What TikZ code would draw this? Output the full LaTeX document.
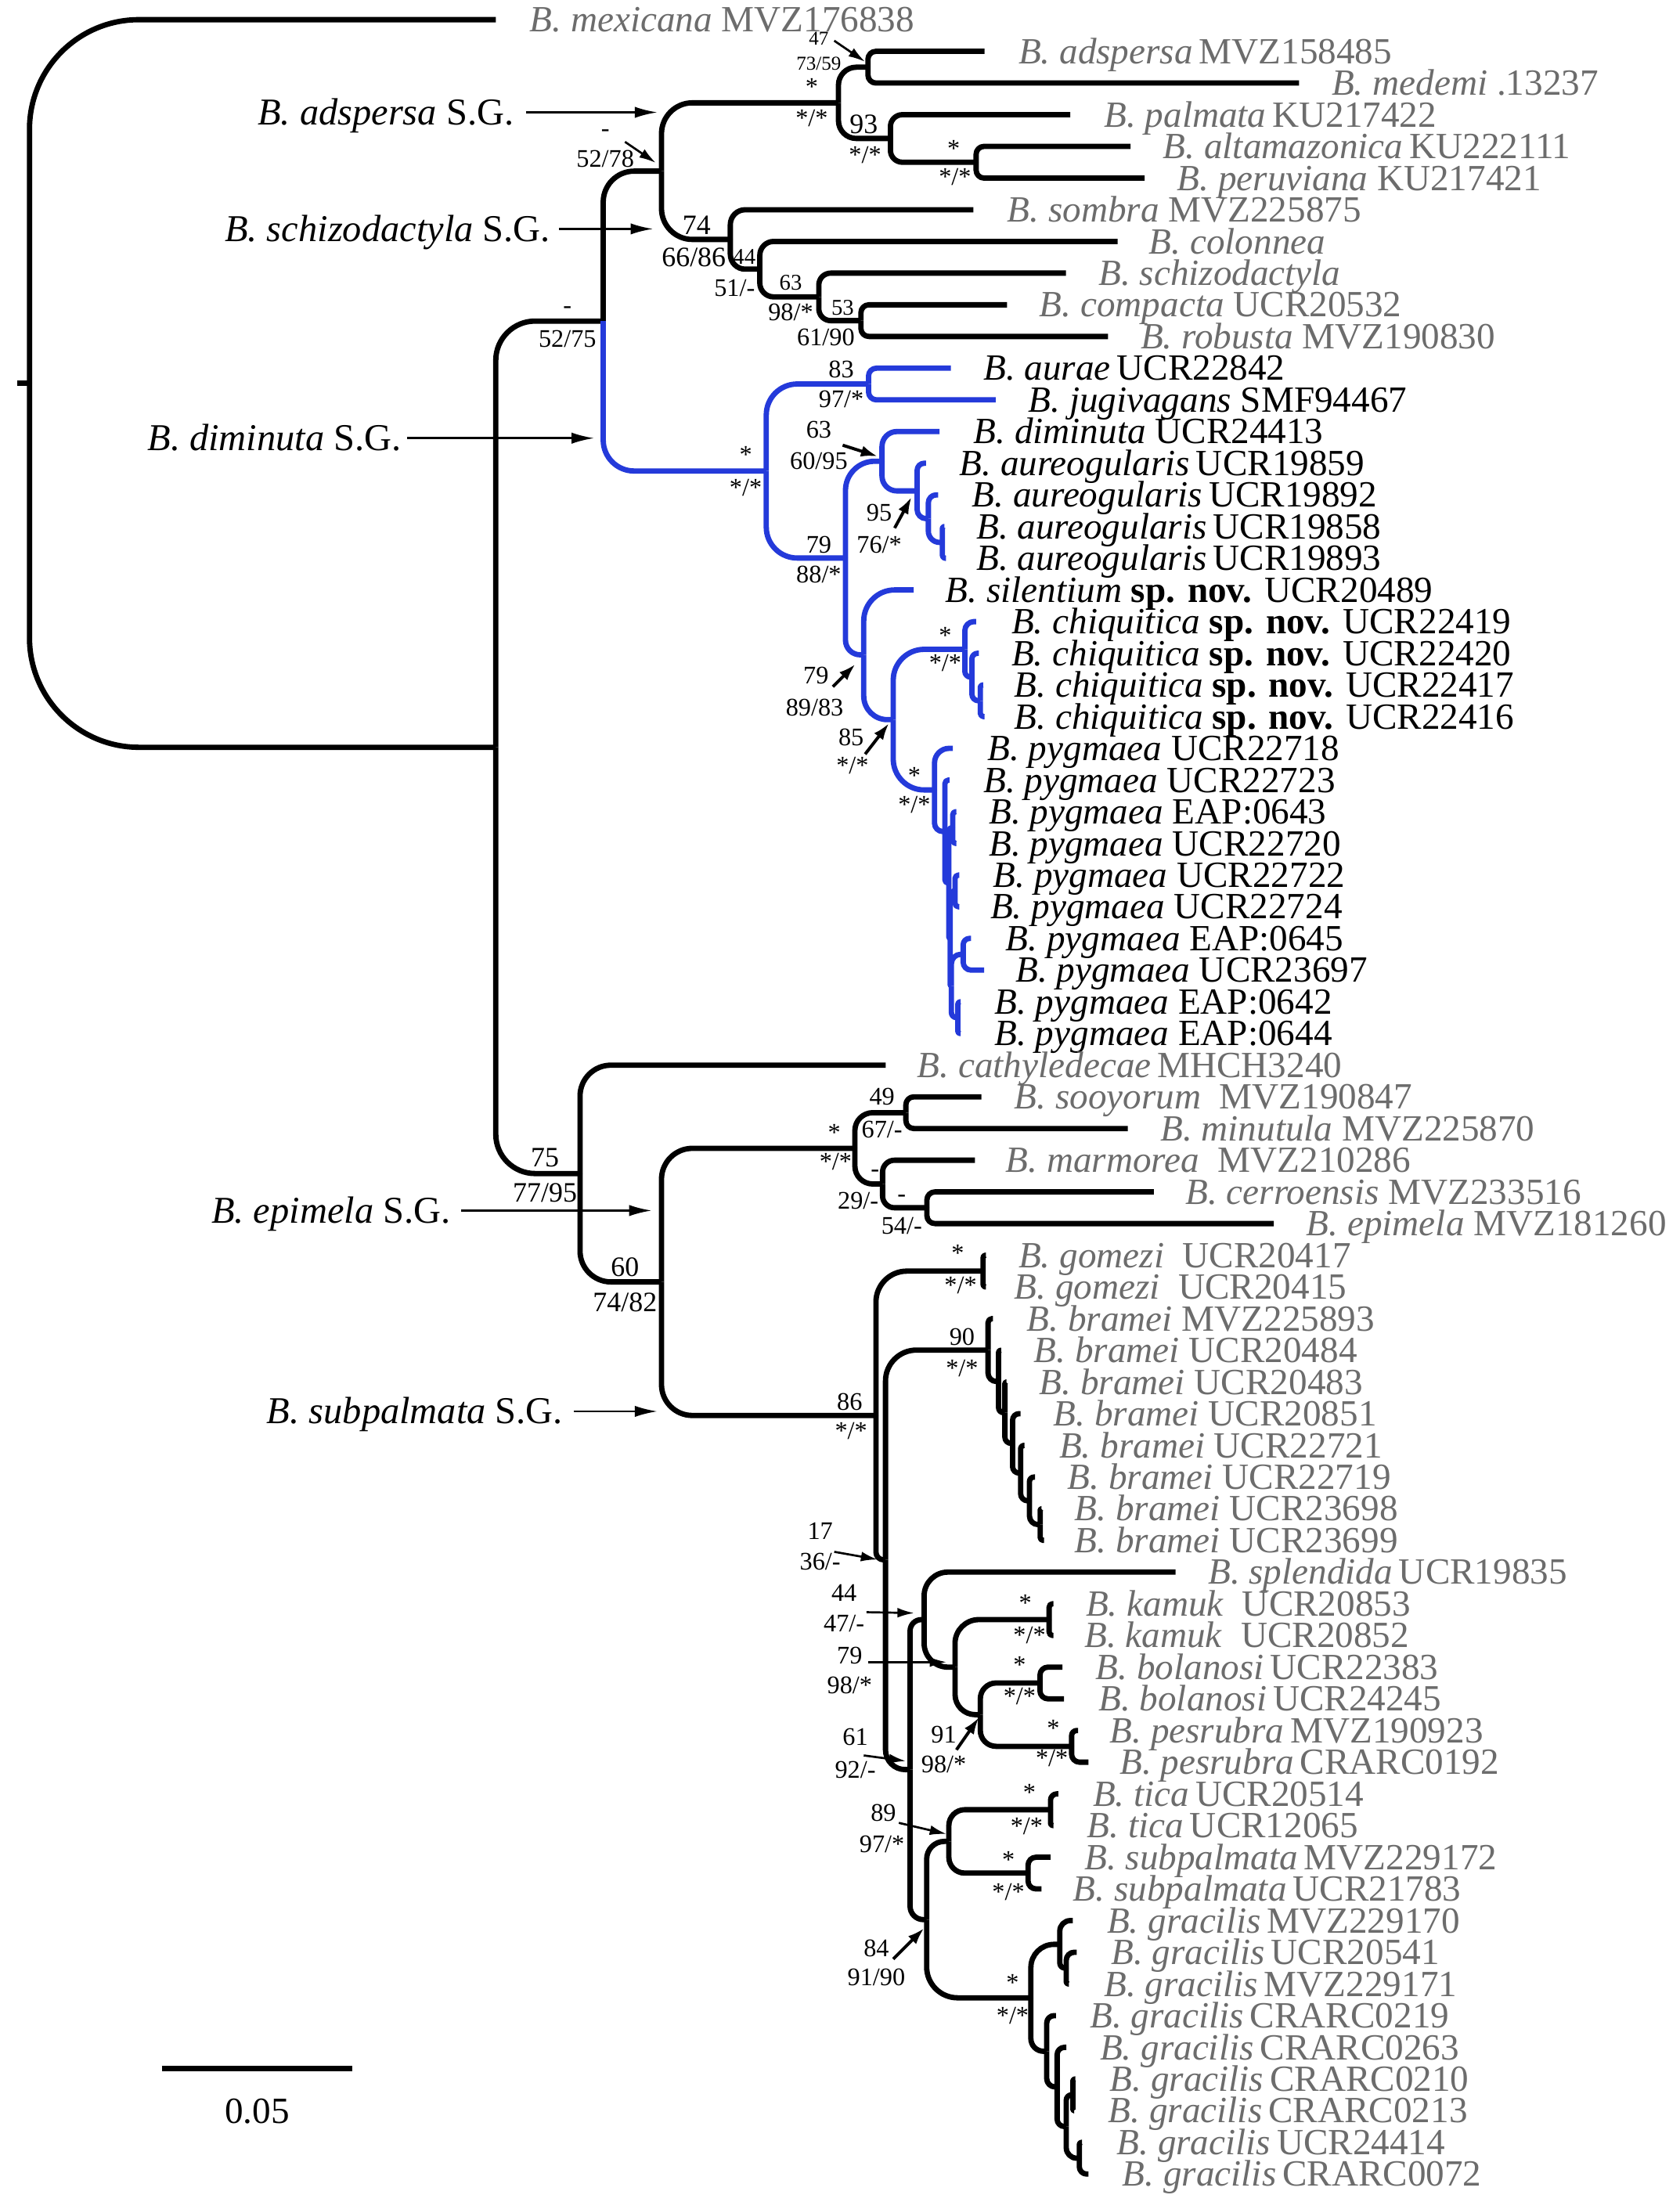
\documentclass[tikz,border=0pt]{standalone}
\usepackage{fontspec}
\setmainfont{Liberation Serif}
\usetikzlibrary{arrows.meta}
\definecolor{myblue}{RGB}{36,58,218}
\definecolor{tgray}{RGB}{108,108,108}
\newcommand\mytaxf{\fontsize{26.3}{28}\selectfont}
\newcommand\mylabf{\fontsize{18}{20}\selectfont}
\newcommand\mybigf{\fontsize{20}{22}\selectfont}
\newcommand\mymidf{\fontsize{16}{18}\selectfont}
\newcommand\mysmlf{\fontsize{14}{16}\selectfont}
\newcommand\mygrpf{\fontsize{27}{30}\selectfont}
\def\brmax{22}
\newcommand\br[3][]{%
  \path (#2); \pgfgetlastxy{\brpx}{\brpy}%
  \path (#3); \pgfgetlastxy{\brcx}{\brcy}%
  \pgfmathsetmacro\brr{max(0.2,min(\brmax,0.5*abs((\brpy)-(\brcy)),0.8*abs((\brcx)-(\brpx))))}%
  \draw[branch,rounded corners=\brr pt,#1] (#2) |- (#3);%
}
\newcommand\tx[6][tgray]{%
  \coordinate (t#2) at (#3,#4);
  \node[tax,text=#1] (l#2) at (#5,#4) {#6};}
\begin{document}
\begin{tikzpicture}[x=1pt,y=-1pt,
  branch/.style={line width=3.8pt,line cap=butt,line join=round},
  blu/.style={draw=myblue},
  tax/.style={anchor=base west,inner sep=0pt,font=\mytaxf,yshift=-8.7pt,text height=0.66em,text depth=0.16em},
  grp/.style={anchor=base east,inner sep=0pt,font=\mygrpf,yshift=-8.9pt},
  lab/.style={anchor=base,inner sep=0pt,font=\mylabf,yshift=-6pt},
  labb/.style={anchor=base,inner sep=0pt,font=\mybigf,yshift=-6.8pt},
  labm/.style={anchor=base,inner sep=0pt,font=\mymidf,yshift=-5.4pt},
  labs/.style={anchor=base,inner sep=0pt,font=\mysmlf,yshift=-4.8pt},
  st/.style={anchor=base,inner sep=0pt,font=\mylabf,yshift=-8.5pt},
  hy/.style={anchor=base,inner sep=0pt,font=\mylabf,yshift=-4pt},
  garrow/.style={line width=1.4pt,-{Latex[length=16pt,width=8pt]}},
  narrow/.style={line width=2.2pt,-{Latex[length=12pt,width=8pt]}},
  tarrow/.style={line width=1.5pt,-{Latex[length=12pt,width=7pt]}}]
\useasboundingbox (0,0) rectangle (1196,1568);
\fill[white] (0,0) rectangle (1196,1568);

% ---------------- internal nodes ----------------
\coordinate (R0) at (21,273.07);
\coordinate (A) at (353,532.14);
\coordinate (B) at (429.5,228.63);
\coordinate (C) at (413,835.65);
\coordinate (E) at (471,121.87);
\coordinate (F) at (545.6,335.39);
\coordinate (G) at (597,73.22);
\coordinate (H) at (520,170.51);
\coordinate (I) at (618,47.84);
\coordinate (J) at (634,98.6);
\coordinate (K) at (695,115.52);
\coordinate (L) at (541,191.66);
\coordinate (M) at (583,211.4);
\coordinate (N) at (613,228.32);
\coordinate (O) at (618.4,273.44);
\coordinate (P) at (602,397.35);
\coordinate (Q) at (628,328.43);
\coordinate (S) at (653,349.58);
\coordinate (T) at (661,369.32);
\coordinate (U) at (671,386.24);
\coordinate (R) at (615,466.26);
\coordinate (V) at (636,512.44);
\coordinate (W) at (687,462.38);
\coordinate (W2) at (692,482.12);
\coordinate (W3) at (698,499.04);
\coordinate (X) at (665.4,562.49);
\coordinate (X2) at (672.8,592.1);
\coordinate (X3) at (675.6,628.76);
\coordinate (X4) at (676.5,668.24);
\coordinate (X5) at (677.4,702.08);
\coordinate (c1) at (678.4,589.28);
\coordinate (c2) at (680,634.4);
\coordinate (c3) at (685.8,679.52);
\coordinate (c4) at (682,724.64);
\coordinate (D) at (471,912.81);
\coordinate (SS) at (608.7,817.7);
\coordinate (TT) at (645,792.32);
\coordinate (UU) at (628.4,843.08);
\coordinate (VV) at (660,860.0);
\coordinate (Z) at (623.7,1007.92);
\coordinate (Y) at (700,905.12);
\coordinate (AA) at (630.5,1110.72);
\coordinate (BB) at (703.5,961.35);
\coordinate (BB2) at (711,983.73);
\coordinate (BB3) at (715.5,1005.94);
\coordinate (BB4) at (721,1027.79);
\coordinate (BB5) at (726.7,1048.94);
\coordinate (BB6) at (733,1068.68);
\coordinate (BB7) at (740.6,1085.6);
\coordinate (CC) at (648,1260.09);
\coordinate (DD) at (658,1153.28);
\coordinate (FF) at (680,1187.12);
\coordinate (GG) at (747,1153.28);
\coordinate (HH) at (698,1220.96);
\coordinate (II) at (740.5,1198.4);
\coordinate (JJ) at (763,1243.52);
\coordinate (EE) at (659.8,1366.9);
\coordinate (KK) at (675.6,1311.2);
\coordinate (MM) at (748,1288.64);
\coordinate (NN) at (732,1333.76);
\coordinate (LL) at (734,1422.59);
\coordinate (OO) at (754.6,1384.52);
\coordinate (OO2) at (759.2,1401.44);
\coordinate (PP) at (745.3,1460.66);
\coordinate (PP2) at (752.7,1486.04);
\coordinate (PP3) at (759.2,1514.24);
\coordinate (QQ) at (763.9,1491.68);
\coordinate (RR) at (768.5,1536.8);
\coordinate (stub) at (12,273.07);

% ---------------- tips and taxon labels ----------------
\tx{1}{353}{14}{377}{\textit{B. mexicana} MVZ176838}
\tx{2}{701}{36.56}{725}{\textit{B. adspersa}\,MVZ158485}
\tx{3}{925}{59.12}{948}{\textit{B. medemi} .13237}
\tx{4}{762}{81.68}{786}{\textit{B. palmata}\,KU217422}
\tx{5}{805}{104.24}{828}{\textit{B. altamazonica}\,KU222111}
\tx{6}{815}{126.8}{838}{\textit{B. peruviana} KU217421}
\tx{7}{693}{149.36}{717}{\textit{B. sombra} MVZ225875}
\tx{8}{795.7}{171.92}{818}{\textit{B. colonnea}}
\tx{9}{759}{194.48}{782}{\textit{B. schizodactyla}}
\tx{10}{717}{217.04}{740}{\textit{B. compacta} UCR20532}
\tx{11}{789}{239.6}{812}{\textit{B. robusta} MVZ190830}
\tx[black]{12}{677}{262.16}{700}{\textit{B. aurae}\,UCR22842}
\tx[black]{13}{709}{284.72}{732}{\textit{B. jugivagans} SMF94467}
\tx[black]{14}{669}{307.28}{693}{\textit{B. diminuta} UCR24413}
\tx[black]{15}{659.4}{329.84}{683}{\textit{B. aureogularis}\,UCR19859}
\tx[black]{16}{668}{352.4}{692}{\textit{B. aureogularis}\,UCR19892}
\tx[black]{17}{672.5}{374.96}{695}{\textit{B. aureogularis}\,UCR19858}
\tx[black]{18}{673.5}{397.52}{695}{\textit{B. aureogularis}\,UCR19893}
\tx[black]{19}{650.6}{420.08}{673}{\textit{B. silentium} \textbf{sp. nov.} UCR20489}
\tx[black]{20}{695}{442.64}{720}{\textit{B. chiquitica} \textbf{sp. nov.} UCR22419}
\tx[black]{21}{697}{465.2}{720}{\textit{B. chiquitica} \textbf{sp. nov.} UCR22420}
\tx[black]{22}{700}{487.76}{722}{\textit{B. chiquitica} \textbf{sp. nov.} UCR22417}
\tx[black]{23}{701}{510.32}{722}{\textit{B. chiquitica} \textbf{sp. nov.} UCR22416}
\tx[black]{24}{678.4}{532.88}{703}{\textit{B. pygmaea} UCR22718}
\tx[black]{25}{676}{555.44}{700}{\textit{B. pygmaea} UCR22723}
\tx[black]{26}{681}{578}{704}{\textit{B. pygmaea} EAP:0643}
\tx[black]{27}{681}{600.56}{704}{\textit{B. pygmaea} UCR22720}
\tx[black]{28}{683}{623.12}{707}{\textit{B. pygmaea} UCR22722}
\tx[black]{29}{683}{645.68}{705}{\textit{B. pygmaea} UCR22724}
\tx[black]{30}{691.4}{668.24}{716}{\textit{B. pygmaea} EAP:0645}
\tx[black]{31}{700.7}{690.8}{723}{\textit{B. pygmaea} UCR23697}
\tx[black]{32}{684}{713.36}{708}{\textit{B. pygmaea} EAP:0642}
\tx[black]{33}{684}{735.92}{708}{\textit{B. pygmaea} EAP:0644}
\tx{34}{630.6}{758.48}{653}{\textit{B. cathyledecae}\,MHCH3240}
\tx{35}{698.8}{781.04}{722}{\textit{B. sooyorum}\enspace MVZ190847}
\tx{36}{803}{803.6}{826}{\textit{B. minutula} MVZ225870}
\tx{37}{694.2}{826.16}{716}{\textit{B. marmorea}\enspace MVZ210286}
\tx{38}{821.5}{848.72}{844}{\textit{B. cerroensis} MVZ233516}
\tx{39}{907}{871.28}{930}{\textit{B. epimela} MVZ181260}
\tx{40}{702}{893.84}{725}{\textit{B. gomezi}\enspace UCR20417}
\tx{41}{702}{916.4}{722}{\textit{B. gomezi}\enspace UCR20415}
\tx{42}{707}{938.96}{731}{\textit{B. bramei} MVZ225893}
\tx{43}{712.8}{961.52}{736}{\textit{B. bramei} UCR20484}
\tx{44}{716.6}{984.08}{740}{\textit{B. bramei} UCR20483}
\tx{45}{726.7}{1006.64}{750}{\textit{B. bramei} UCR20851}
\tx{46}{729.5}{1029.2}{754}{\textit{B. bramei} UCR22721}
\tx{47}{737}{1051.76}{760}{\textit{B. bramei} UCR22719}
\tx{48}{741.6}{1074.32}{765}{\textit{B. bramei} UCR23698}
\tx{49}{743.4}{1096.88}{765}{\textit{B. bramei} UCR23699}
\tx{50}{837}{1119.44}{860}{\textit{B. splendida}\,UCR19835}
\tx{51}{750}{1142}{773}{\textit{B. kamuk}\enspace UCR20853}
\tx{52}{750}{1164.56}{772}{\textit{B. kamuk}\enspace UCR20852}
\tx{53}{756.4}{1187.12}{780}{\textit{B. bolanosi}\,UCR22383}
\tx{54}{757.6}{1209.68}{782}{\textit{B. bolanosi}\,UCR24245}
\tx{55}{767.6}{1232.24}{790}{\textit{B. pesrubra}\,MVZ190923}
\tx{56}{775}{1254.8}{797}{\textit{B. pesrubra}\,CRARC0192}
\tx{57}{753.6}{1277.36}{778}{\textit{B. tica}\,UCR20514}
\tx{58}{750}{1299.92}{774}{\textit{B. tica}\,UCR12065}
\tx{59}{748}{1322.48}{772}{\textit{B. subpalmata}\,MVZ229172}
\tx{60}{741.6}{1345.04}{764}{\textit{B. subpalmata}\,UCR21783}
\tx{61}{763.9}{1367.6}{788}{\textit{B. gracilis}\,MVZ229170}
\tx{62}{766.7}{1390.16}{791}{\textit{B. gracilis}\,UCR20541}
\tx{63}{761}{1412.72}{786}{\textit{B. gracilis}\,MVZ229171}
\tx{64}{751.8}{1435.28}{776}{\textit{B. gracilis}\,CRARC0219}
\tx{65}{759.2}{1457.84}{783}{\textit{B. gracilis}\,CRARC0263}
\tx{66}{765.7}{1480.4}{790}{\textit{B. gracilis}\,CRARC0210}
\tx{67}{764.8}{1502.96}{789}{\textit{B. gracilis}\,CRARC0213}
\tx{68}{770.4}{1525.52}{795}{\textit{B. gracilis}\,UCR24414}
\tx{69}{775}{1548.08}{799}{\textit{B. gracilis}\,CRARC0072}

% ---------------- branches ----------------
\draw[branch] (stub) -- (R0);
\br[rounded corners=78pt]{R0}{t1}
\br[rounded corners=78pt]{R0}{A}
\br[rounded corners=28pt]{A}{B}
\br[rounded corners=28pt]{A}{C}
\br{B}{E}
\br[blu]{B}{F}
\br{E}{G} \br{E}{H}
\br{G}{I} \br{G}{J}
\br{I}{t2} \br{I}{t3}
\br{J}{t4} \br{J}{K}
\br{K}{t5} \br{K}{t6}
\br{H}{t7} \br{H}{L}
\br{L}{t8} \br{L}{M}
\br{M}{t9} \br{M}{N}
\br{N}{t10} \br{N}{t11}
% diminuta S.G. (blue)
\br[blu]{F}{O} \br[blu]{F}{P}
\br[blu]{O}{t12} \br[blu]{O}{t13}
\br[blu]{P}{Q} \br[blu]{P}{R}
\br[blu]{Q}{t14} \br[blu]{Q}{S}
\br[blu]{S}{t15} \br[blu]{S}{T}
\br[blu]{T}{t16} \br[blu]{T}{U}
\br[blu]{U}{t17} \br[blu]{U}{t18}
\br[blu]{R}{t19} \br[blu]{R}{V}
\br[blu]{V}{W} \br[blu]{V}{X}
\br[blu]{W}{t20} \br[blu]{W}{W2}
\br[blu]{W2}{t21} \br[blu]{W2}{W3}
\br[blu]{W3}{t22} \br[blu]{W3}{t23}
\br[blu]{X}{t24} \br[blu]{X}{X2}
\br[blu]{X2}{t25} \br[blu]{X2}{X3}
\br[blu]{X3}{c1} \br[blu]{X3}{X4}
\br[blu]{c1}{t26} \br[blu]{c1}{t27}
\br[blu]{X4}{c2} \br[blu]{X4}{X5}
\br[blu]{c2}{t28} \br[blu]{c2}{t29}
\br[blu]{X5}{c3} \br[blu]{X5}{c4}
\br[blu]{c3}{t30} \br[blu]{c3}{t31}
\br[blu]{c4}{t32} \br[blu]{c4}{t33}
% epimela / subpalmata
\br{C}{t34} \br{C}{D}
\br{D}{SS} \br{D}{Z}
\br{SS}{TT} \br{SS}{UU}
\br{TT}{t35} \br{TT}{t36}
\br{UU}{t37} \br{UU}{VV}
\br{VV}{t38} \br{VV}{t39}
\br{Z}{Y} \br{Z}{AA}
\br{Y}{t40} \br{Y}{t41}
\br{AA}{BB} \br{AA}{CC}
\br{BB}{t42} \br{BB}{BB2}
\br{BB2}{t43} \br{BB2}{BB3}
\br{BB3}{t44} \br{BB3}{BB4}
\br{BB4}{t45} \br{BB4}{BB5}
\br{BB5}{t46} \br{BB5}{BB6}
\br{BB6}{t47} \br{BB6}{BB7}
\br{BB7}{t48} \br{BB7}{t49}
\br{CC}{DD} \br{CC}{EE}
\br{DD}{t50} \br{DD}{FF}
\br{FF}{GG} \br{FF}{HH}
\br{GG}{t51} \br{GG}{t52}
\br{HH}{II} \br{HH}{JJ}
\br{II}{t53} \br{II}{t54}
\br{JJ}{t55} \br{JJ}{t56}
\br{EE}{KK} \br{EE}{LL}
\br{KK}{MM} \br{KK}{NN}
\br{MM}{t57} \br{MM}{t58}
\br{NN}{t59} \br{NN}{t60}
\br{LL}{OO} \br{LL}{PP}
\br{OO}{t61} \br{OO}{OO2}
\br{OO2}{t62} \br{OO2}{t63}
\br{PP}{t64} \br{PP}{PP2}
\br{PP2}{t65} \br{PP2}{PP3}
\br{PP3}{QQ} \br{PP3}{RR}
\br{QQ}{t66} \br{QQ}{t67}
\br{RR}{t68} \br{RR}{t69}

% ---------------- support values ----------------
\node[labs] (n1) at (583,27) {47};
\node[labs] (n2) at (583,45) {73/59};
\node[st] (n3) at (578,59) {*};
\node[lab] (n4) at (578,84) {*/*};
\node[labb] (n5) at (615,88) {93};
\node[lab] (n6) at (616,110) {*/*};
\node[st] (n7) at (679,103) {*};
\node[lab] (n8) at (680,126) {*/*};
\node[hy] (n9) at (431,93) {-};
\node[lab] (n10) at (431,113) {52/78};
\node[labb] (n11) at (496,160) {74};
\node[labb] (n12) at (494,183) {66/86};
\node[labm] (n13) at (530,183) {44};
\node[lab] (n14) at (523,205) {51/-};
\node[labm] (n15) at (563,201) {63};
\node[lab] (n16) at (563,222) {98/*};
\node[labm] (n17) at (600,219) {53};
\node[lab] (n18) at (588,240) {61/90};
\node[hy] (n19) at (404,219) {-};
\node[lab] (n20) at (404,241) {52/75};
\node[lab] (n21) at (599,263) {83};
\node[lab] (n22) at (599,284) {97/*};
\node[st] (n23) at (531,321) {*};
\node[lab] (n24) at (531,347) {*/*};
\node[lab] (n25) at (583,306) {63};
\node[lab] (n26) at (583,328) {60/95};
\node[lab] (n27) at (626,365) {95};
\node[lab] (n28) at (626,388) {76/*};
\node[lab] (n29) at (583,388) {79};
\node[lab] (n30) at (583,409) {88/*};
\node[lab] (n31) at (581,481) {79};
\node[lab] (n32) at (580,504) {89/83};
\node[lab] (n33) at (606,525) {85};
\node[lab] (n34) at (607,545) {*/*};
\node[st] (n35) at (651,550) {*};
\node[lab] (n36) at (651,573) {*/*};
\node[st] (n37) at (673,450) {*};
\node[lab] (n38) at (673,472) {*/*};
\node[labb] (n39) at (388,824) {75};
\node[labb] (n40) at (388,849) {77/95};
\node[labb] (n41) at (445,902) {60};
\node[labb] (n42) at (445,927) {74/82};
\node[lab] (n43) at (628,781) {49};
\node[lab] (n44) at (628,804) {67/-};
\node[st] (n45) at (594,804) {*};
\node[lab] (n46) at (595,827) {*/*};
\node[hy] (n47) at (623,834) {-};
\node[lab] (n48) at (611,855) {29/-};
\node[hy] (n49) at (642,852) {-};
\node[lab] (n50) at (642,873) {54/-};
\node[st] (n51) at (682,890) {*};
\node[lab] (n52) at (684,915) {*/*};
\node[lab] (n53) at (685,952) {90};
\node[lab] (n54) at (685,974) {*/*};
\node[lab] (n55) at (605,998) {86};
\node[lab] (n56) at (606,1019) {*/*};
\node[lab] (n57) at (584,1090) {17};
\node[lab] (n58) at (584,1112) {36/-};
\node[lab] (n59) at (601,1134) {44};
\node[lab] (n60) at (601,1156) {47/-};
\node[lab] (n61) at (605,1179) {79};
\node[lab] (n62) at (605,1200) {98/*};
\node[st] (n63) at (730,1139) {*};
\node[lab] (n64) at (733,1164) {*/*};
\node[st] (n65) at (726,1183) {*};
\node[lab] (n66) at (726,1208) {*/*};
\node[lab] (n67) at (672,1235) {91};
\node[lab] (n68) at (672,1256) {98/*};
\node[st] (n69) at (750,1228) {*};
\node[lab] (n70) at (749,1252) {*/*};
\node[lab] (n71) at (609,1237) {61};
\node[lab] (n72) at (609,1260) {92/-};
\node[st] (n73) at (733,1274) {*};
\node[lab] (n74) at (731,1300) {*/*};
\node[lab] (n75) at (629,1291) {89};
\node[lab] (n76) at (628,1313) {97/*};
\node[st] (n77) at (718,1322) {*};
\node[lab] (n78) at (718,1347) {*/*};
\node[lab] (n79) at (624,1387) {84};
\node[lab] (n80) at (624,1408) {91/90};
\node[st] (n81) at (721,1409) {*};
\node[lab] (n82) at (721,1435) {*/*};

% ---------------- support value pointers ----------------
\coordinate (a1s) at (594,29);     \coordinate (a1e) at (616,44);
\coordinate (a2s) at (445,101);    \coordinate (a2e) at (467,116);
\coordinate (a3s) at (600,317);    \coordinate (a3e) at (625,325);
\coordinate (a4s) at (637,376);    \coordinate (a4e) at (649,354);
\coordinate (a5s) at (593,489);    \coordinate (a5e) at (609,473);
\coordinate (a6s) at (616,537);    \coordinate (a6e) at (633,515);
\coordinate (a7s) at (594,1105);   \coordinate (a7e) at (625,1110.5);
\coordinate (a8s) at (617,1148);   \coordinate (a8e) at (651,1148.6);
\coordinate (a9s) at (618,1183.5); \coordinate (a9e) at (674,1183.5);
\coordinate (a10s) at (681,1246);  \coordinate (a10e) at (697,1223);
\coordinate (a11s) at (615,1250);  \coordinate (a11e) at (645,1254);
\coordinate (a12s) at (640,1298);  \coordinate (a12e) at (674,1306);
\coordinate (a13s) at (636,1395);  \coordinate (a13e) at (658,1373);
\draw[tarrow] (a1s) -- (a1e);
\draw[tarrow] (a2s) -- (a2e);
\draw[narrow] (a3s) -- (a3e);
\draw[narrow] (a4s) -- (a4e);
\draw[narrow] (a5s) -- (a5e);
\draw[narrow] (a6s) -- (a6e);
\draw[tarrow] (a7s) -- (a7e);
\draw[tarrow] (a8s) -- (a8e);
\draw[tarrow] (a9s) -- (a9e);
\draw[narrow] (a10s) -- (a10e);
\draw[tarrow] (a11s) -- (a11e);
\draw[tarrow] (a12s) -- (a12e);
\draw[narrow] (a13s) -- (a13e);

% ---------------- species-group labels ----------------
\node[grp] (g1) at (366,80) {\textit{B. adspersa} S.G.};
\node[grp] (g2) at (392,163) {\textit{B. schizodactyla} S.G.};
\node[grp] (g3) at (286,312) {\textit{B. diminuta} S.G.};
\node[grp] (g4) at (321,862) {\textit{B. epimela} S.G.};
\node[grp] (g5) at (401,1005) {\textit{B. subpalmata} S.G.};
\coordinate (g1s) at (374.5,80);  \coordinate (g1e) at (468,80);
\coordinate (g2s) at (398,163);   \coordinate (g2e) at (465,163);
\coordinate (g3s) at (290,312);   \coordinate (g3e) at (423,312);
\coordinate (g4s) at (328.5,862); \coordinate (g4e) at (464,862);
\coordinate (g5s) at (408.7,1005);\coordinate (g5e) at (468,1005);
\draw[garrow] (g1s) -- (g1e);
\draw[garrow] (g2s) -- (g2e);
\draw[garrow] (g3s) -- (g3e);
\draw[garrow] (g4s) -- (g4e);
\draw[garrow] (g5s) -- (g5e);

% ---------------- scale bar ----------------
\coordinate (sb1) at (115.2,1473);
\coordinate (sb2) at (250.8,1473);
\draw[line width=4pt] (sb1) -- (sb2);
\node[anchor=base,inner sep=0pt,font=\mytaxf,yshift=-8.7pt] (sbl) at (183,1503) {0.05};
\end{tikzpicture}
\end{document}
